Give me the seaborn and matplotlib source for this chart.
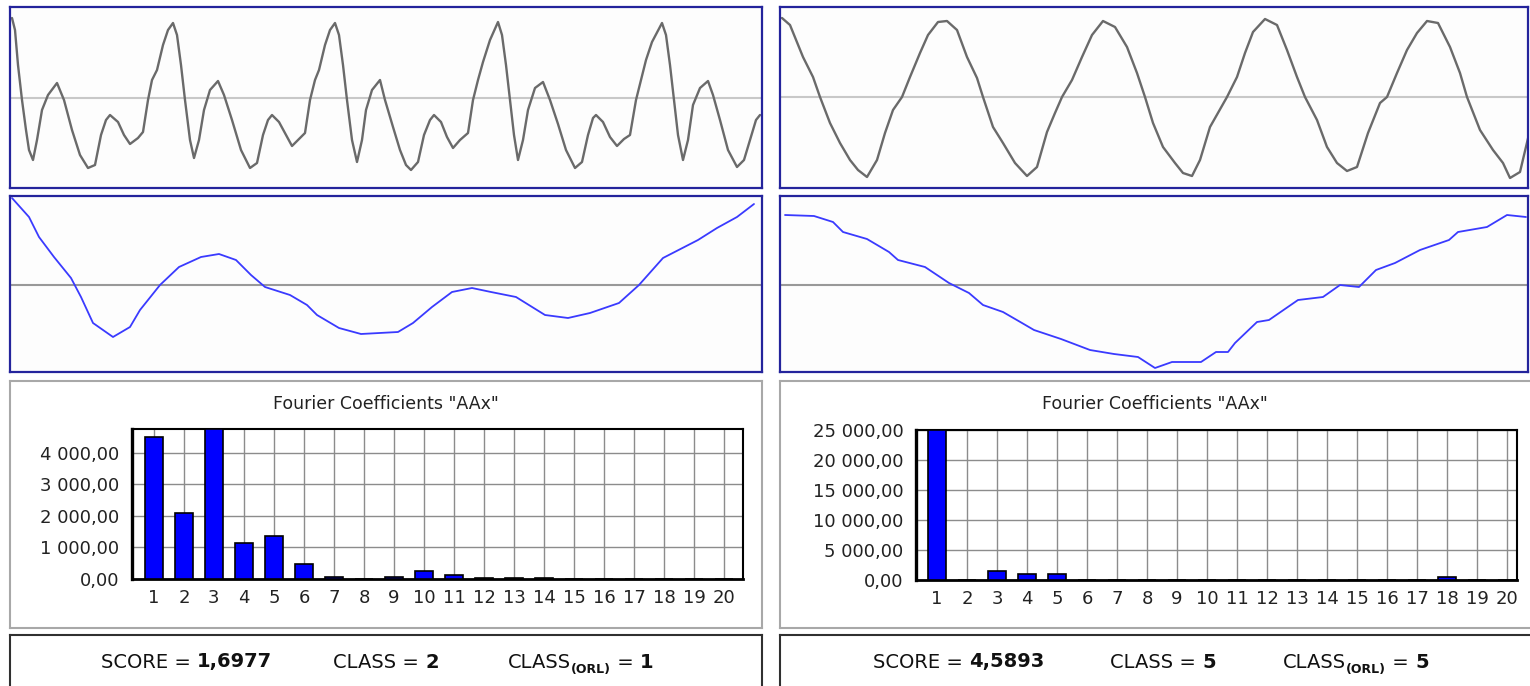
import matplotlib.pyplot as plt
import seaborn as sns
from matplotlib.ticker import FuncFormatter

# --- datos ---
# senal superior izquierda (muestra, amplitud)
sig_left_x = [2, 5, 8, 12, 16, 19, 23, 27, 32, 38,
              47, 54, 62, 70, 78, 85, 91, 96, 100, 108,
              114, 120, 128, 133, 138, 142, 147, 153, 158, 163,
              167, 171, 175, 180, 184, 189, 194, 200, 208, 214,
              222, 231, 240, 247, 253, 258, 262, 269, 276, 282,
              290, 295, 300, 305, 309, 315, 320, 325, 329, 333,
              337, 342, 347, 352, 356, 362, 370, 375, 383, 390,
              396, 401, 408, 414, 420, 424, 431, 437, 443, 450,
              458, 463, 468, 473, 480, 488, 492, 496, 500, 504,
              508, 513, 518, 525, 533, 540, 548, 556, 565, 572,
              578, 583, 586, 593, 600, 607, 614, 620, 626, 631,
              636, 642, 652, 656, 660, 664, 668, 673, 678, 683,
              690, 698, 703, 710, 718, 727, 734, 740, 746, 750]
sig_left_y = [80, 68, 33, -2, -32, -52, -62, -42, -12, 3,
              15, -2, -32, -57, -70, -67, -37, -22, -17, -24,
              -37, -46, -40, -34, -2, 18, 28, 53, 68, 75,
              63, 33, -2, -42, -60, -42, -12, 8, 17, 3,
              -22, -52, -70, -65, -37, -22, -17, -24, -37, -48,
              -40, -35, -2, 18, 28, 53, 68, 75, 63, 33,
              -2, -42, -64, -42, -12, 8, 18, -2, -29, -52,
              -67, -72, -64, -37, -22, -17, -24, -39, -50, -42,
              -35, -2, 18, 36, 58, 76, 63, 33, -2, -37,
              -62, -42, -12, 10, 16, -2, -26, -52, -70, -64,
              -37, -20, -17, -24, -39, -48, -41, -37, -2, 18,
              38, 56, 75, 63, 33, -2, -37, -62, -42, -7,
              10, 17, 3, -22, -52, -69, -62, -42, -22, -17]

# senal superior derecha
sig_right_x = [2, 10, 23, 33, 40, 50, 60, 70, 78, 87,
               97, 105, 113, 122, 130, 140, 148, 158, 167, 177,
               187, 197, 203, 213, 223, 235, 247, 257, 267, 275,
               282, 292, 302, 312, 323, 335, 347, 357, 365, 373,
               383, 395, 403, 412, 420, 430, 447, 457, 465, 473,
               485, 497, 507, 517, 525, 537, 547, 557, 567, 577,
               588, 600, 607, 617, 627, 637, 647, 658, 670, 680,
               687, 700, 713, 723, 730, 740, 750]
sig_right_y = [79, 72, 40, 20, 0, -26, -46, -63, -73, -80,
               -63, -36, -13, 0, 20, 44, 62, 75, 76, 67,
               40, 19, 0, -30, -46, -66, -79, -70, -35, -16,
               0, 17, 40, 62, 76, 70, 50, 24, 0, -26,
               -50, -66, -76, -79, -63, -30, 0, 20, 44, 65,
               78, 72, 47, 20, 0, -23, -50, -66, -74, -70,
               -36, -6, 0, 24, 47, 64, 76, 74, 50, 24,
               0, -33, -53, -66, -81, -75, -33]

# curvas azules del medio
mid_left_x = [2, 19, 29, 44, 61, 71, 83, 103, 120, 130,
              150, 169, 191, 209, 226, 241, 255, 280, 297, 307,
              329, 351, 388, 403, 422, 442, 462, 481, 506, 535,
              558, 580, 609, 629, 653, 688, 707, 727, 744]
mid_left_y = [87, 68, 48, 28, 7, -12, -38, -52, -42, -25,
              0, 18, 28, 31, 25, 10, -2, -10, -20, -30,
              -43, -49, -47, -38, -22, -7, -3, -7, -12, -30,
              -33, -28, -18, 0, 27, 45, 57, 68, 81]

mid_right_x = [5, 34, 53, 63, 87, 109, 118, 145, 169, 189,
               203, 223, 242, 254, 281, 310, 334, 358, 375, 392,
               421, 436, 448, 455, 477, 489, 518, 543, 560, 579,
               596, 615, 640, 669, 678, 707, 727, 746]
mid_right_y = [70, 69, 63, 53, 46, 33, 25, 18, 2, -8,
               -20, -27, -38, -45, -54, -65, -69, -72, -83, -77,
               -77, -67, -67, -58, -37, -35, -15, -12, 0, -2,
               15, 22, 35, 45, 53, 58, 70, 68]

# coeficientes de Fourier
coef_labels = [str(i) for i in range(1, 21)]
coef_left = [4500, 2100, 4760, 1150, 1350, 480, 70, 15, 70, 260,
             140, 40, 40, 40, 0, 0, 0, 0, 0, 0]
coef_right = [25000, 0, 1500, 1000, 1000, 0, 0, 0, 0, 0,
              0, 0, 0, 0, 0, 0, 0, 500, 0, 0]

scores = ['1,6977', '4,5893']
classes = ['2', '5']
classes_orl = ['1', '5']

sns.set_style('white')
plt.rcParams['font.family'] = ['DejaVu Sans']

W, H = 1530, 686
fig = plt.figure(figsize=(W / 100, H / 100), dpi=100)


def box(x0, y0, x1, y1):
    return [x0 / W, 1 - y1 / H, (x1 - x0) / W, (y1 - y0) / H]


def frame(rect, color, lw):
    ax = fig.add_axes(rect)
    ax.set_xticks([])
    ax.set_yticks([])
    ax.set_facecolor('white')
    for s in ax.spines.values():
        s.set_color(color)
        s.set_linewidth(lw)
    return ax


def signal_panel(rect, xs, ys, xmax, ylim, color, lw, zcolor):
    ax = frame(rect, '#24249c', 1.6)
    ax.set_facecolor('#fdfdfd')
    ax.axhline(0, color=zcolor, lw=1.5, zorder=1)
    sns.lineplot(x=xs, y=ys, color=color, lw=lw, estimator=None, ax=ax, zorder=2)
    ax.set_xlim(0, xmax)
    ax.set_ylim(*ylim)
    ax.set_xlabel('')
    ax.set_ylabel('')
    ax.set_xticks([])
    ax.set_yticks([])
    return ax


# paneles de senal
signal_panel(box(10, 7, 762, 188), sig_left_x, sig_left_y, 752, (-90, 91), '#6a6a6a', 1.7, '#c8c8c8')
signal_panel(box(780, 7, 1528, 188), sig_right_x, sig_right_y, 748, (-91, 90), '#6a6a6a', 1.7, '#c8c8c8')
signal_panel(box(10, 196, 762, 372), mid_left_x, mid_left_y, 752, (-87, 89), '#3a3aff', 1.3, '#999999')
signal_panel(box(780, 196, 1528, 372), mid_right_x, mid_right_y, 748, (-87, 89), '#3a3aff', 1.3, '#999999')

# marcos de los graficos de barras y de los resultados
frame(box(10, 381, 762, 628), '#a8a8a8', 1.5)
frame(box(780, 381, 1545, 628), '#a8a8a8', 1.5)
frame(box(10, 635, 762, 700), '#303030', 1.5)
frame(box(780, 635, 1545, 700), '#303030', 1.5)

fmt = FuncFormatter(lambda v, p: f'{v:,.2f}'.replace(',', ' ').replace('.', ','))


def coef_chart(rect, vals, yticks, xlim):
    ax = fig.add_axes(rect)
    sns.barplot(x=coef_labels, y=vals, color='#0000ff', saturation=1,
                edgecolor='black', linewidth=1.2, width=0.6, ax=ax, zorder=3)
    ax.set_xlim(*xlim)
    ax.set_ylim(0, max(vals))
    ax.set_yticks(yticks)
    ax.yaxis.set_major_formatter(fmt)
    ax.set_xlabel('')
    ax.set_ylabel('')
    ax.grid(True, color='#8c8c8c', lw=1.0)
    ax.set_axisbelow(True)
    ax.tick_params(axis='both', direction='out', length=5, width=1,
                   color='#8c8c8c', labelsize=13, labelcolor='#222222')
    ax.tick_params(axis='y', pad=4)
    ax.tick_params(axis='x', pad=2)
    for s in ax.spines.values():
        s.set_color('black')
        s.set_linewidth(1.5)
    ax.spines['left'].set_linewidth(2.4)
    ax.spines['bottom'].set_linewidth(2.0)
    return ax


coef_chart(box(132, 429, 743, 579), coef_left, range(0, 4001, 1000), (-0.73, 19.63))
coef_chart(box(916, 430, 1517, 580), coef_right, range(0, 25001, 5000), (-0.7, 19.33))

title = 'Fourier Coefficients "AAx"'
fig.text(386 / W, 1 - 404 / H, title, ha='center', va='center', fontsize=12.5, color='#222222')
fig.text(1155 / W, 1 - 404 / H, title, ha='center', va='center', fontsize=12.5, color='#222222')


def score_line(x_score, x_class, x_orl, score, cls, orl):
    y = 1 - 662 / H
    kw = dict(fontsize=14, color='#111111')
    t = fig.text(x_score / W, y, 'SCORE = ', va='center', **kw)
    plt.annotate(score, xy=(1, 0), xycoords=t, va='bottom', fontweight='bold',
                 annotation_clip=False, **kw)
    t = fig.text(x_class / W, y, 'CLASS = ', va='center', **kw)
    plt.annotate(cls, xy=(1, 0), xycoords=t, va='bottom', fontweight='bold',
                 annotation_clip=False, **kw)
    t = fig.text(x_orl / W, y, 'CLASS', va='center', **kw)
    sub = plt.annotate('(ORL)', xy=(1, 0), xycoords=t, va='bottom', fontsize=9,
                       fontweight='bold', color='#111111', xytext=(0, -3),
                       textcoords='offset points', annotation_clip=False)
    eq = plt.annotate(' = ', xy=(1, 0), xycoords=(sub, t), va='bottom',
                      annotation_clip=False, **kw)
    plt.annotate(orl, xy=(1, 0), xycoords=eq, va='bottom', fontweight='bold',
                 annotation_clip=False, **kw)


score_line(101, 333, 508, scores[0], classes[0], classes_orl[0])
score_line(873, 1110, 1283, scores[1], classes[1], classes_orl[1])

plt.savefig('out.png', dpi=100)
